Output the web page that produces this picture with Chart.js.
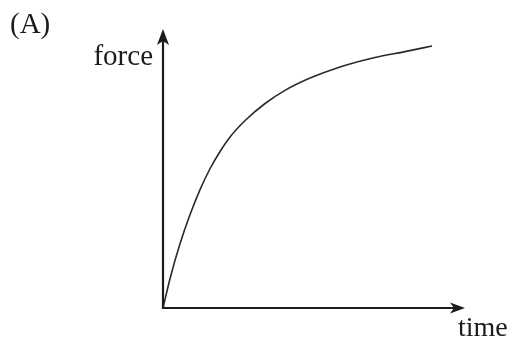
<!DOCTYPE html>
<html>
<head>
<meta charset="utf-8">
<script src="https://cdn.jsdelivr.net/npm/chart.js@4/dist/chart.umd.min.js"></script>
<style>
    html, body { margin: 0; padding: 0; background: #ffffff; }
    #wrap { width: 512px; height: 338px; position: relative; }
</style>
</head>
<body>
<div id="wrap"><canvas id="forceChart"></canvas></div>
<script>
// Valori (unità arbitrarie, assi 0..10)
const timeValues = [0, 0.23, 0.56, 0.89, 1.23, 1.56, 1.89, 2.22, 2.72, 3.38, 4.04, 4.87, 5.86, 7.02, 8.01, 8.91];
const forceValues = [0, 1.04, 2.29, 3.33, 4.25, 5.00, 5.61, 6.13, 6.72, 7.33, 7.80, 8.24, 8.64, 8.98, 9.19, 9.39];
const axisMax = 10;

const panelLabel = "(A)";
const yLabel = "force";
const xLabel = "time";

// Disegna gli assi con le frecce e le etichette
const axesPlugin = {
    id: "axesArrows",
    afterDraw(chart) {
        const ctx = chart.ctx;
        const x = chart.scales.x;
        const y = chart.scales.y;
        const x0 = x.getPixelForValue(0);
        const y0 = y.getPixelForValue(0);
        const xEnd = x.getPixelForValue(axisMax);
        const yEnd = y.getPixelForValue(axisMax);

        ctx.save();
        ctx.strokeStyle = "#1c1c1c";
        ctx.fillStyle = "#1c1c1c";
        ctx.lineWidth = 2.2;

        ctx.beginPath();
        ctx.moveTo(x0, y0 + 1);
        ctx.lineTo(x0, yEnd + 10);
        ctx.moveTo(x0 - 1, y0);
        ctx.lineTo(xEnd - 10, y0);
        ctx.stroke();

        // freccia verticale
        ctx.beginPath();
        ctx.moveTo(x0, yEnd);
        ctx.lineTo(x0 + 6, yEnd + 16);
        ctx.lineTo(x0, yEnd + 12);
        ctx.lineTo(x0 - 6, yEnd + 16);
        ctx.closePath();
        ctx.fill();

        // freccia orizzontale
        ctx.beginPath();
        ctx.moveTo(xEnd, y0);
        ctx.lineTo(xEnd - 15, y0 - 5.5);
        ctx.lineTo(xEnd - 11, y0);
        ctx.lineTo(xEnd - 15, y0 + 5.5);
        ctx.closePath();
        ctx.fill();

        ctx.font = "29px 'Liberation Serif', 'DejaVu Serif', serif";
        ctx.textBaseline = "alphabetic";
        ctx.textAlign = "left";
        ctx.fillText(panelLabel, 10, 33);
        ctx.textAlign = "right";
        ctx.fillText(yLabel, x0 - 10, 65);
        ctx.textAlign = "left";
        ctx.font = "28px 'Liberation Serif', 'DejaVu Serif', serif";
        ctx.fillText(xLabel, 458, 336);
        ctx.restore();
    }
};

new Chart(document.getElementById("forceChart"), {
    type: "line",
    data: {
        datasets: [{
            data: timeValues.map((t, i) => ({ x: t, y: forceValues[i] })),
            borderColor: "#2a2a2a",
            borderWidth: 1.6,
            pointRadius: 0,
            fill: false,
            cubicInterpolationMode: "monotone"
        }]
    },
    options: {
        responsive: true,
        maintainAspectRatio: false,
        animation: false,
        layout: { padding: { left: 163, right: 47, top: 29, bottom: 30 } },
        plugins: {
            legend: { display: false },
            tooltip: { enabled: false }
        },
        scales: {
            x: { type: "linear", min: 0, max: axisMax, display: false },
            y: { type: "linear", min: 0, max: axisMax, display: false }
        }
    },
    plugins: [axesPlugin]
});
</script>
</body>
</html>
